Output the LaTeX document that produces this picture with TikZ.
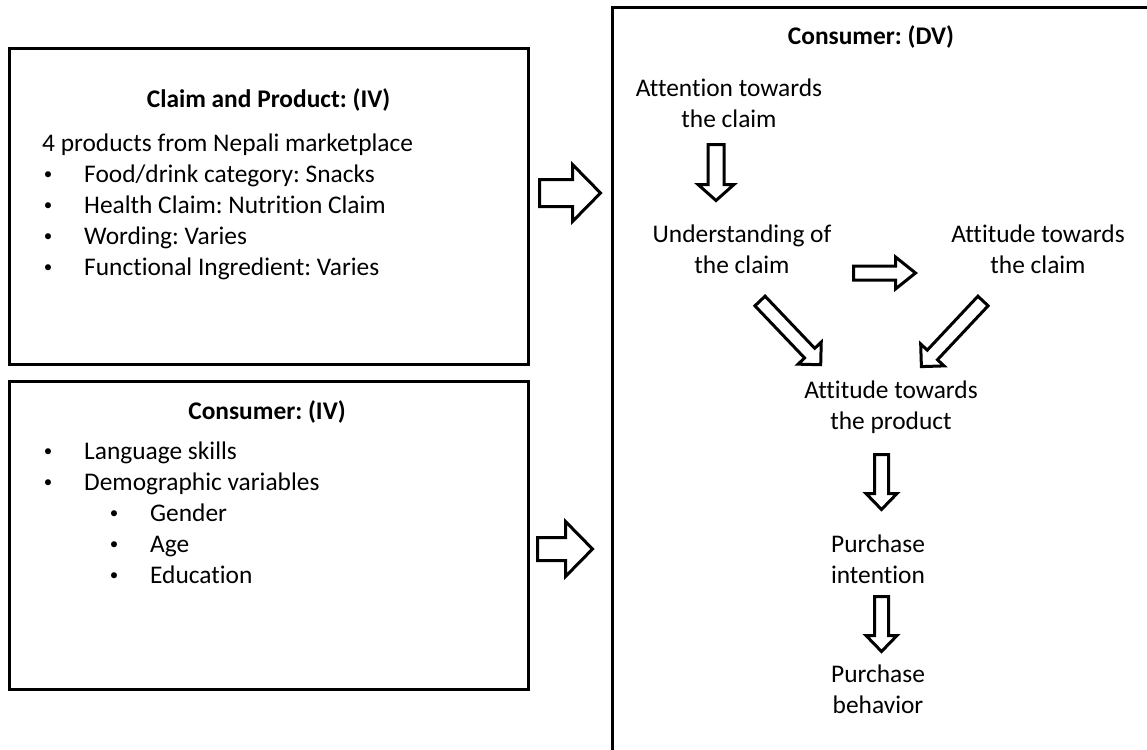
\documentclass[tikz,border=0pt]{standalone}
\usepackage{fontspec}
\setmainfont{Carlito}[Ligatures=NoCommon]
\frenchspacing

% two centred lines; the baseline of the block is that of its first line
\newcommand{\twoline}[2]{\begin{tabular}[t]{@{}c@{}}#1\\#2\end{tabular}}

% hollow block arrow: #1 tail coordinate, #2 angle, #3 length,
% #4 shaft width, #5 head width, #6 head length
\newcommand{\blockarr}[6]{%
  \begin{scope}[shift={(#1)}, rotate=#2]
    \draw[blockarrow] (0,{-(#4)/2}) -- ({#3-#6},{-(#4)/2}) -- ({#3-#6},{-(#5)/2})
      -- (#3,0) -- ({#3-#6},{(#5)/2}) -- ({#3-#6},{(#4)/2}) -- (0,{(#4)/2}) -- cycle;
  \end{scope}}

\begin{document}
\begin{tikzpicture}[x=1pt, y=-1pt,
  panel/.style={draw=black, line width=3pt, fill=none, inner sep=0pt},
  txt/.style={font={\fontsize{25.4}{31}\selectfont}, inner sep=0pt, text=black},
  ttl/.style={txt, font={\fontsize{25.4}{31}\selectfont\bfseries}, anchor=base},
  item/.style={txt, anchor=base west},
  dot/.style={txt, font={\fontsize{17}{20}\selectfont}, anchor=base, yshift=3pt},
  lbl/.style={txt, anchor=base},
  blockarrow/.style={draw=black, fill=white, line width=3pt, miter limit=10}]

\useasboundingbox (0,0) rectangle (1147,749);
\clip (0,0) rectangle (1147,749);

% ---------- panels ----------
\node[panel, minimum width=519pt, minimum height=315pt] (cpbox) at (268.5,206.5) {};
\node[panel, minimum width=519pt, minimum height=307.5pt] (cibox) at (268.5,535.25) {};
\node[panel, minimum width=590pt, minimum height=795pt] (dvbox) at (907.3,405.2) {};

% ---------- claim and product ----------
\node[ttl] (cptitle) at (268.5,107.5) {Claim and Product: (IV)};
\node[item] (cp0) at (42,151) {4 products from Nepali marketplace};
\node[dot] (b1) at (48,182) {•};
\node[item] (cp1) at (84,182) {Food/drink category: Snacks};
\node[dot] (b2) at (48,213) {•};
\node[item] (cp2) at (84,213) {Health Claim: Nutrition Claim};
\node[dot] (b3) at (48,244) {•};
\node[item] (cp3) at (84,244) {Wording: Varies};
\node[dot] (b4) at (48,275) {•};
\node[item] (cp4) at (84,275) {Functional Ingredient: Varies};

% ---------- consumer (IV) ----------
\node[ttl] (cititle) at (267,419) {Consumer: (IV)};
\node[dot] (c1) at (48,459) {•};
\node[item] (ci1) at (84,459) {Language skills};
\node[dot] (c2) at (48,490) {•};
\node[item] (ci2) at (84,490) {Demographic variables};
\node[dot] (c3) at (114,521) {•};
\node[item] (ci3) at (150,521) {Gender};
\node[dot] (c4) at (114,552) {•};
\node[item] (ci4) at (150,552) {Age};
\node[dot] (c5) at (114,583) {•};
\node[item] (ci5) at (150,583) {Education};

% ---------- consumer (DV) ----------
\node[ttl] (dvtitle) at (871,45) {Consumer: (DV)};
\node[lbl] (att) at (729,97) {\twoline{Attention towards}{the claim}};
\node[lbl] (und) at (742,242) {\twoline{Understanding of}{the claim}};
\node[lbl] (atc) at (1038,242) {\twoline{Attitude towards}{the claim}};
\node[lbl] (atp) at (891,398) {\twoline{Attitude towards}{the product}};
\node[lbl] (pin) at (878,552) {\twoline{Purchase}{intention}};
\node[lbl] (pbe) at (878,682) {\twoline{Purchase}{behavior}};

% ---------- block arrows ----------
\coordinate (t1) at (539.5,193);
\coordinate (t2) at (537.5,549);
\coordinate (t3) at (716,144.5);
\coordinate (t4) at (853.5,273);
\coordinate (t5) at (760,301);
\coordinate (t6) at (983,301);
\coordinate (t7) at (881.5,454.5);
\coordinate (t8) at (881.5,596.5);

\blockarr{t1}{0}{61}{27}{57}{28}
\blockarr{t2}{0}{55}{23}{55}{27}
\blockarr{t3}{-90}{56}{16}{36}{16}
\blockarr{t4}{0}{62}{14}{32}{20}
\blockarr{t5}{-46.4}{88}{14}{32}{16}
\blockarr{t6}{-133.2}{90}{14}{32}{16}
\blockarr{t7}{-90}{55}{14}{31}{16}
\blockarr{t8}{-90}{55}{14}{31}{16}
\end{tikzpicture}
\end{document}
